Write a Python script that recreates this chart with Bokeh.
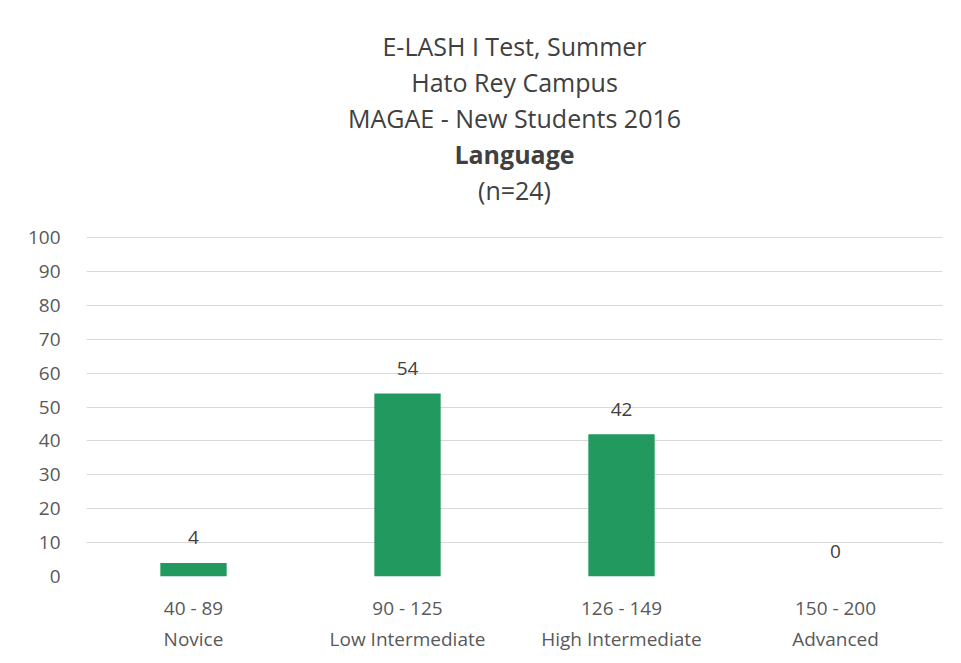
from bokeh.plotting import figure
from bokeh.models import ColumnDataSource, Title, Range1d, FixedTicker
from bokeh.core.properties import value
from bokeh.embed import file_html
from bokeh.resources import INLINE

categories = ["40 - 89\nNovice", "90 - 125\nLow Intermediate",
              "126 - 149\nHigh Intermediate", "150 - 200\nAdvanced"]
percentages = [4, 54, 42, 0]
labels = ["4", "54", "42", "0"]
title_lines = ["E-LASH I Test, Summer", "Hato Rey Campus",
               "MAGAE - New Students 2016", "Language", "(n=24)"]
y_ticks = list(range(0, 101, 10))

FONT = "Open Sans"
src = ColumnDataSource(dict(cat=categories, val=percentages, lab=labels))

p = figure(x_range=categories, y_range=Range1d(0, 100.3), width=945, height=654,
           output_backend="svg", toolbar_location=None,
           min_border_left=86, min_border_right=3, min_border_bottom=10,
           min_border_top=0)
p.outline_line_color = None
p.background_fill_color = "white"
p.border_fill_color = "white"

p.vbar(x="cat", top="val", width=0.31, source=src, fill_color="#22995f",
       line_color=None)
p.text(x="cat", y="val", text="lab", source=src, text_align="center",
       text_baseline="middle", y_offset=-25, text_font=value(FONT),
       text_font_size="19px", text_color="#404040")

p.xgrid.grid_line_color = None
p.ygrid.grid_line_color = "#d9d9d9"
p.ygrid.grid_line_width = 1
p.yaxis.ticker = FixedTicker(ticks=y_ticks)

for ax in (p.xaxis[0], p.yaxis[0]):
    ax.axis_line_color = None
    ax.major_tick_line_color = None
    ax.minor_tick_line_color = None
    ax.major_label_text_font = FONT
    ax.major_label_text_font_size = "19px"
    ax.major_label_text_color = "#595959"
p.yaxis.major_label_standoff = 20
p.xaxis.major_label_standoff = 12

# spacer between the title block and the plot frame
p.add_layout(Title(text=" ", text_font_size="1px", standoff=27), "above")

styles = ["normal", "normal", "normal", "bold", "normal"]
for i in reversed(range(len(title_lines))):
    t = Title(text=title_lines[i], align="center", text_font=FONT,
              text_font_size="25px", text_font_style=styles[i],
              text_color="#404040", standoff=0)
    p.add_layout(t, "above")

# spacer above the title block
p.add_layout(Title(text=" ", text_font_size="1px", standoff=23), "above")

open("out.html", "w").write(file_html(p, INLINE))
